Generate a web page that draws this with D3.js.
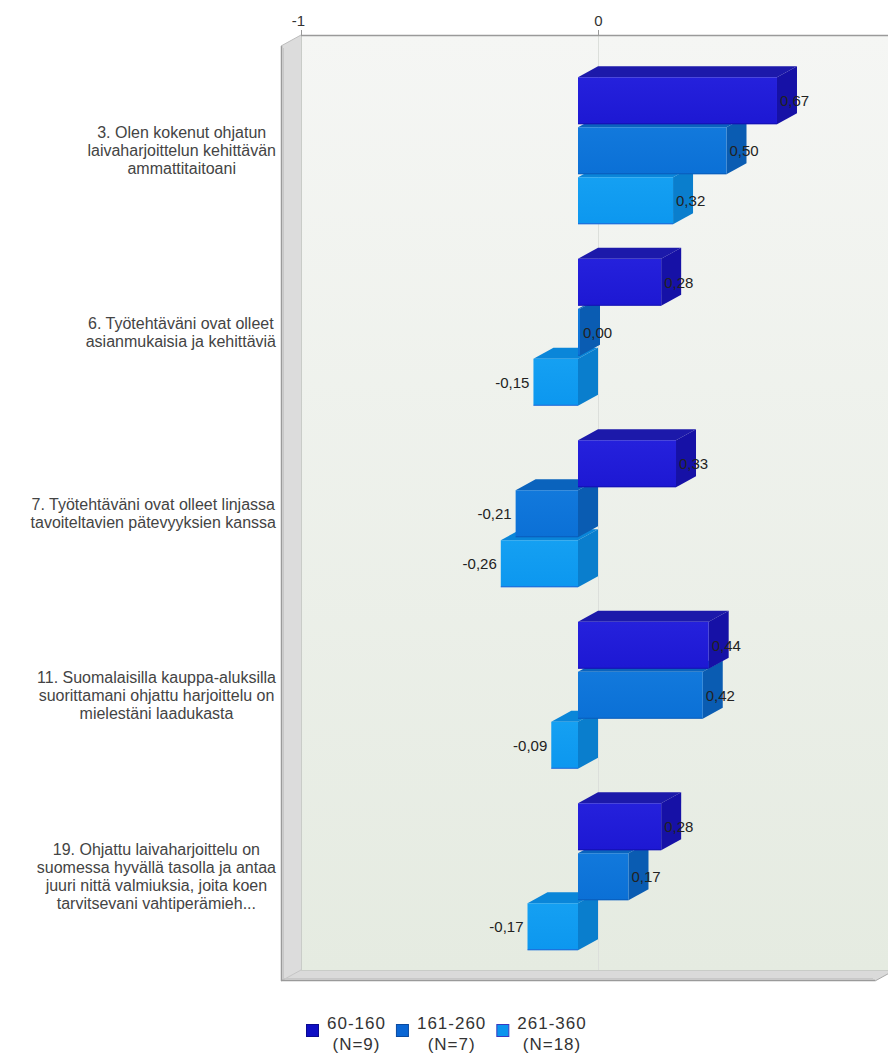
<!DOCTYPE html>
<html><head><meta charset="utf-8">
<script src="https://cdn.jsdelivr.net/npm/d3@7"></script>
<style>body{margin:0;background:#fff} svg{display:block}</style>
</head><body>
<script>
// ---- data ----
const categories = [
  ["3. Olen kokenut ohjatun", "laivaharjoittelun kehittävän", "ammattitaitoani"],
  ["6. Työtehtäväni ovat olleet", "asianmukaisia ja kehittäviä"],
  ["7. Työtehtäväni ovat olleet linjassa", "tavoiteltavien pätevyyksien kanssa"],
  ["11. Suomalaisilla kauppa-aluksilla", "suorittamani ohjattu harjoittelu on", "mielestäni laadukasta"],
  ["19. Ohjattu laivaharjoittelu on", "suomessa hyvällä tasolla ja antaa", "juuri nittä valmiuksia, joita koen", "tarvitsevani vahtiperämieh..."]
];
const seriesNames = ["60-160", "161-260", "261-360"];
const seriesN = ["(N=9)", "(N=7)", "(N=18)"];
const series1 = [0.67, 0.28, 0.33, 0.44, 0.28];
const series2 = [0.50, 0.00, -0.21, 0.42, 0.17];
const series3 = [0.32, -0.15, -0.26, -0.09, -0.17];
const xTicks = [-1, 0];

// ---- styling / layout ----
const W = 888, H = 1053;
const FONT = "'Liberation Sans', Arial, sans-serif";
const DX = -20, DY = 11;
const plotTop = 35, plotBottom = 970;
const palettes = [
  {front: "#1d18d3", light: "#2521dc", top: "#1c19aa", side: "#1611a6", legend: "#0f0fc4", stroke: "#0a0a90"},
  {front: "#0b70d6", light: "#1279dc", top: "#0a63bd", side: "#0a5cb2", legend: "#0a66d4", stroke: "#0a4aa0"},
  {front: "#0c97ef", light: "#15a0f2", top: "#0a86d9", side: "#0a7ecd", legend: "#0b94ee", stroke: "#3a3ac0"}
];

const allSeries = [series1, series2, series3];
const fmt = d3.formatLocale({decimal: ",", thousands: " ", grouping: [3], currency: ["", ""], minus: "-"}).format(".2f");

const svg = d3.select("body").append("svg").attr("width", W).attr("height", H)
  .style("font-family", FONT);

const x = d3.scaleLinear().domain([-1, 1]).range([301, 895]);
const y = d3.scaleBand().domain(d3.range(categories.length)).range([60, 967.5]);
const inner = d3.scaleBand().domain(d3.range(allSeries.length)).range([0, 150]);
const barH = 47;
const groupOffset = (y.bandwidth() - (inner.step() * 2 + barH)) / 2;

const defs = svg.append("defs");
const bg = defs.append("linearGradient").attr("id", "bg").attr("x1", 0).attr("y1", 0).attr("x2", 0).attr("y2", 1);
bg.append("stop").attr("offset", 0).attr("stop-color", "#f5f6f4");
bg.append("stop").attr("offset", 1).attr("stop-color", "#e5ebe1");
palettes.forEach((p, i) => {
  const g = defs.append("linearGradient").attr("id", "fg" + i).attr("x1", 0).attr("y1", 0).attr("x2", 0).attr("y2", 1);
  g.append("stop").attr("offset", 0).attr("stop-color", p.light);
  g.append("stop").attr("offset", 1).attr("stop-color", p.front);
});

const x0 = x.range()[0], x1 = x.range()[1];
// back plane
svg.append("rect").attr("x", x0).attr("y", plotTop).attr("width", x1 - x0).attr("height", plotBottom - plotTop)
  .attr("fill", "url(#bg)");
// zero grid line
svg.append("line").attr("x1", x(0) + 0.5).attr("x2", x(0) + 0.5).attr("y1", plotTop).attr("y2", plotBottom)
  .attr("stroke", "#dcdfdb").attr("stroke-width", 1);
// left wall
svg.append("polygon").attr("points", [[x0, plotTop], [x0 + DX, plotTop + DY], [x0 + DX, plotBottom + DY], [x0, plotBottom]].join(" "))
  .attr("fill", "#dcdcdc");
// floor
svg.append("polygon").attr("points", [[x0, plotBottom], [x1, plotBottom], [x1 + DX, plotBottom + DY], [x0 + DX, plotBottom + DY]].join(" "))
  .attr("fill", "#dadada");
// edges
svg.append("line").attr("x1", x0 + 0.5).attr("x2", x0 + 0.5).attr("y1", plotTop).attr("y2", plotBottom).attr("stroke", "#c9ccc8");
svg.append("line").attr("x1", x0).attr("x2", x1).attr("y1", plotBottom + 0.5).attr("y2", plotBottom + 0.5).attr("stroke", "#c9ccc8");
svg.append("line").attr("x1", x0).attr("y1", plotBottom).attr("x2", x0 + DX).attr("y2", plotBottom + DY).attr("stroke", "#c4c4c4");
svg.append("line").attr("x1", x0 + DX + 0.5).attr("x2", x0 + DX + 0.5).attr("y1", plotTop + DY).attr("y2", plotBottom + DY)
  .attr("stroke", "#9a9a9a").attr("stroke-width", 1.5);
svg.append("line").attr("x1", x0 + DX + 2.5).attr("x2", x0 + DX + 2.5).attr("y1", plotTop + DY + 2).attr("y2", plotBottom + DY - 2)
  .attr("stroke", "#c8c8c8").attr("stroke-width", 1);
svg.append("line").attr("x1", x0 + DX).attr("x2", x1 + DX).attr("y1", plotBottom + DY - 0.5).attr("y2", plotBottom + DY - 0.5)
  .attr("stroke", "#9a9a9a").attr("stroke-width", 1.5);
svg.append("line").attr("x1", x0 + DX + 2).attr("x2", x1 + DX - 2).attr("y1", plotBottom + DY - 2.5).attr("y2", plotBottom + DY - 2.5)
  .attr("stroke", "#c8c8c8").attr("stroke-width", 1);
svg.append("line").attr("x1", x1).attr("y1", plotBottom).attr("x2", x1 + DX).attr("y2", plotBottom + DY).attr("stroke", "#a8a8a8");
svg.append("line").attr("x1", x0).attr("y1", plotTop).attr("x2", x0 + DX).attr("y2", plotTop + DY).attr("stroke", "#bdbdbd");

// top axis
const axis = svg.append("g").attr("transform", `translate(0,${plotTop})`)
  .call(d3.axisTop(x).tickValues(xTicks).tickSize(5).tickPadding(4).tickFormat(d3.format("d")));
axis.select(".domain").attr("stroke", "#9a9a9a").attr("stroke-width", 1.5).attr("d", `M${x0},0.5H${W}`);
axis.selectAll(".tick line").attr("stroke", "#9a9a9a");
axis.selectAll(".tick text").attr("fill", "#333").style("font-size", "15px").style("font-family", FONT)
  .attr("dx", d => d < 0 ? "-0.2em" : 0)
  .text(d => d3.format("d")(d).replace("−", "-"));

// bars
categories.forEach((cat, i) => {
  for (let j = allSeries.length - 1; j >= 0; j--) {
    const v = allSeries[j][i];
    const p = palettes[j];
    let bx0 = x(Math.min(0, v)), bx1 = x(Math.max(0, v));
    if (bx1 - bx0 < 2) bx1 = bx0 + 2;
    const fy = y(i) + groupOffset + inner(j);
    const g = svg.append("g");
    g.append("polygon").attr("points", [[bx0 + DX, fy], [bx0, fy - DY], [bx1, fy - DY], [bx1 + DX, fy]].join(" "))
      .attr("fill", p.top);
    g.append("polygon").attr("points", [[bx1 + DX, fy], [bx1, fy - DY], [bx1, fy - DY + barH], [bx1 + DX, fy + barH]].join(" "))
      .attr("fill", p.side);
    g.append("rect").attr("x", bx0 + DX).attr("y", fy).attr("width", bx1 - bx0).attr("height", barH)
      .attr("fill", `url(#fg${j})`);
    g.append("line").attr("x1", bx0 + DX).attr("x2", bx1 + DX).attr("y1", fy + barH - 0.5).attr("y2", fy + barH - 0.5)
      .attr("stroke", p.stroke).attr("stroke-opacity", 0.5);
    const pos = v >= 0;
    g.append("text")
      .attr("x", pos ? bx1 + DX + 3 : bx0 + DX - 4)
      .attr("y", fy + barH / 2)
      .attr("dy", "0.35em")
      .attr("text-anchor", pos ? "start" : "end")
      .attr("fill", "#222").style("font-size", "15px")
      .text(fmt(v));
  }
});

// category labels
const labelRight = 276, lineH = 18;
categories.forEach((lines, i) => {
  const cy = y(i) + y.bandwidth() / 2;
  const t = svg.append("text").attr("fill", "#444").style("font-size", "16px").attr("text-anchor", "middle");
  const spans = lines.map((ln, k) => t.append("tspan").attr("y", cy + (k - (lines.length - 1) / 2) * lineH).attr("dy", "0.35em").text(ln));
  const maxW = d3.max(spans, s => s.node().getComputedTextLength());
  spans.forEach(s => s.attr("x", labelRight - maxW / 2));
});

// legend
let lx = 306;
const legY = 1030;
seriesNames.forEach((name, j) => {
  const p = palettes[j];
  svg.append("rect").attr("x", lx + 0.5).attr("y", legY - 5.5).attr("width", 12).attr("height", 12)
    .attr("fill", p.legend).attr("stroke", p.stroke).attr("stroke-width", 1);
  const t = svg.append("text").attr("fill", "#333").style("font-size", "17px").style("letter-spacing", "1px")
    .attr("text-anchor", "middle");
  const s1 = t.append("tspan").attr("y", legY - 7).attr("dy", "0.35em").text(name);
  const s2 = t.append("tspan").attr("y", legY + 14).attr("dy", "0.35em").text(seriesN[j]);
  const bw = Math.max(s1.node().getComputedTextLength(), s2.node().getComputedTextLength());
  const cx = lx + 21 + bw / 2;
  s1.attr("x", cx); s2.attr("x", cx);
  lx = lx + 21 + bw + 10;
});
</script>
</body></html>
